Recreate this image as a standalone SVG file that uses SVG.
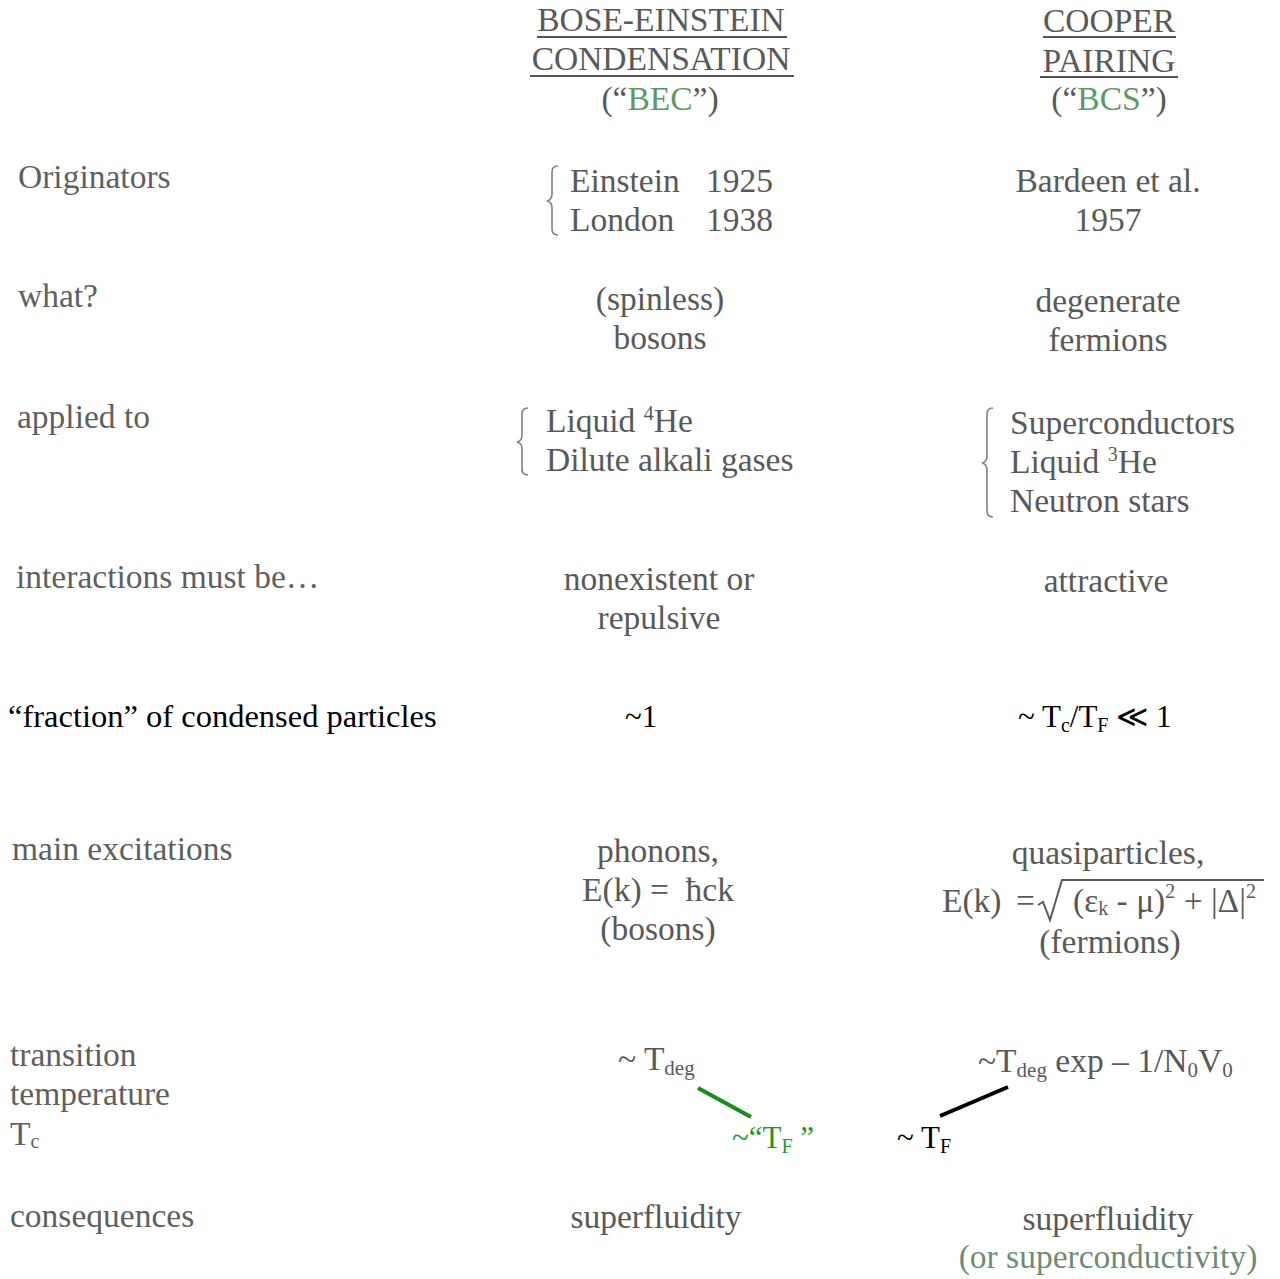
<svg xmlns="http://www.w3.org/2000/svg" width="1280" height="1279" viewBox="0 0 1280 1279">
<style>
text{font-family:"Liberation Serif","Times New Roman",serif;}
.g{fill:#595959;font-size:33.5px;}
.lab{fill:#5f5f5f;font-size:33.5px;}
.k{fill:#000;font-size:31px;}
.c{text-anchor:middle;}
.grn{fill:#5c9a62;}
.br{fill:none;stroke:#808080;stroke-width:1.6;}
.ul{stroke:#555;stroke-width:2;}
</style>
<rect width="1280" height="1279" fill="#fff"/>
<g id="header-bec">
<text class="g c" x="661" y="31">BOSE-EINSTEIN</text>
<text class="g c" x="661" y="70">CONDENSATION</text>
<line class="ul" x1="537" y1="37" x2="787" y2="37"/>
<line class="ul" x1="530" y1="76" x2="794" y2="76"/>
<text class="g c" x="660" y="110">(“<tspan class="grn">BEC</tspan>”)</text>
</g>
<g id="header-bcs">
<text class="g c" x="1109" y="32">COOPER</text>
<text class="g c" x="1109" y="72">PAIRING</text>
<line class="ul" x1="1043" y1="37" x2="1176" y2="37"/>
<line class="ul" x1="1040" y1="77" x2="1178" y2="77"/>
<text class="g c" x="1109" y="110">(“<tspan class="grn">BCS</tspan>”)</text>
</g>
<g id="labels">
<text class="lab" x="18" y="188">Originators</text>
<text class="lab" x="18" y="307">what?</text>
<text class="lab" x="17" y="428">applied to</text>
<text class="lab" x="16" y="588">interactions must be…</text>
<text class="k" x="8" y="727" style="font-size:32.5px">“fraction” of condensed particles</text>
<text class="lab" x="12" y="860">main excitations</text>
<text class="lab" x="10" y="1066">transition</text>
<text class="lab" x="10" y="1105">temperature</text>
<text class="lab" x="10" y="1145">T<tspan font-size="20" dy="3">c</tspan></text>
<text class="lab" x="10" y="1227">consequences</text>
</g>
<g id="originators">
<path class="br" d="M558,166 Q552,166 552,172 L552,194 Q552,200 547,201 Q552,202 552,208 L552,229 Q552,235 558,235"/>
<text class="g" x="570" y="192">Einstein</text><text class="g" x="706" y="192">1925</text>
<text class="g" x="570" y="231">London</text><text class="g" x="706" y="231">1938</text>
<text class="g c" x="1108" y="192">Bardeen et al.</text>
<text class="g c" x="1108" y="231">1957</text>
</g>
<g id="what">
<text class="g c" x="660" y="310">(spinless)</text>
<text class="g c" x="660" y="349">bosons</text>
<text class="g c" x="1108" y="312">degenerate</text>
<text class="g c" x="1108" y="351">fermions</text>
</g>
<g id="applied">
<path class="br" d="M528,408 Q522,408 522,414 L522,435 Q522,441 517,442 Q522,443 522,449 L522,469 Q522,475 528,475"/>
<text class="g" x="546" y="432">Liquid <tspan font-size="20" dy="-12">4</tspan><tspan dy="12">He</tspan></text>
<text class="g" x="546" y="471">Dilute alkali gases</text>
<path class="br" d="M993,408 Q987,408 987,414 L987,456 Q987,462 982,463 Q987,464 987,470 L987,511 Q987,517 993,517"/>
<text class="g" x="1010" y="434">Superconductors</text>
<text class="g" x="1010" y="473">Liquid <tspan font-size="20" dy="-12">3</tspan><tspan dy="12">He</tspan></text>
<text class="g" x="1010" y="512">Neutron stars</text>
</g>
<g id="interactions">
<text class="g c" x="659" y="590">nonexistent or</text>
<text class="g c" x="659" y="629">repulsive</text>
<text class="g c" x="1106" y="592">attractive</text>
</g>
<g id="fraction">
<text class="k" x="625" y="727">~1</text>
<text class="k" x="1018" y="727">~ T<tspan font-size="20" dy="5">c</tspan><tspan dy="-5">/T</tspan><tspan font-size="20" dy="5">F</tspan><tspan dy="-5"> ≪ 1</tspan></text>
</g>
<g id="excitations">
<text class="g c" x="658" y="862">phonons,</text>
<text class="g c" x="658" y="901">E(k) =&#160; ħck</text>
<text class="g c" x="658" y="940">(bosons)</text>
<text class="g c" x="1108" y="864">quasiparticles,</text>
<text class="g" x="942" y="912">E(k)</text>
<text class="g" x="1016" y="912">=</text>
<path d="M1038,905 L1043,902 L1050,920 L1062,880 L1264,880" fill="none" stroke="#595959" stroke-width="2"/>
<text class="g" x="1073" y="912">(ε<tspan font-size="20" dy="3">k</tspan><tspan dy="-3"> - μ)</tspan><tspan font-size="20" dy="-14">2</tspan><tspan dy="14"> + |Δ|</tspan><tspan font-size="20" dy="-14">2</tspan></text>
<text class="g c" x="1110" y="953">(fermions)</text>
</g>
<g id="transition">
<text class="g" x="618" y="1070">~ T<tspan font-size="21" dy="5">deg</tspan></text>
<text class="g" x="978" y="1072">~T<tspan font-size="21" dy="5">deg</tspan><tspan dy="-5"> exp – 1/N</tspan><tspan font-size="21" dy="5">0</tspan><tspan dy="-5">V</tspan><tspan font-size="21" dy="5">0</tspan></text>
<text class="k" x="732" y="1148" style="fill:#1f9a1f">~“T<tspan font-size="20" dy="5">F</tspan><tspan dy="-5"> ”</tspan></text>
<text class="k" x="897" y="1148">~ T<tspan font-size="20" dy="5">F</tspan></text>
</g>
<g id="connectors">
<line x1="698" y1="1088" x2="751" y2="1117" stroke="#1a8c1a" stroke-width="4"/>
<line x1="940" y1="1116" x2="1008" y2="1087" stroke="#000" stroke-width="4"/>
</g>
<g id="consequences">
<text class="g c" x="656" y="1228">superfluidity</text>
<text class="g c" x="1108" y="1230">superfluidity</text>
<text class="g c" x="1108" y="1268" style="fill:#6d8c74">(or superconductivity)</text>
</g>
</svg>
